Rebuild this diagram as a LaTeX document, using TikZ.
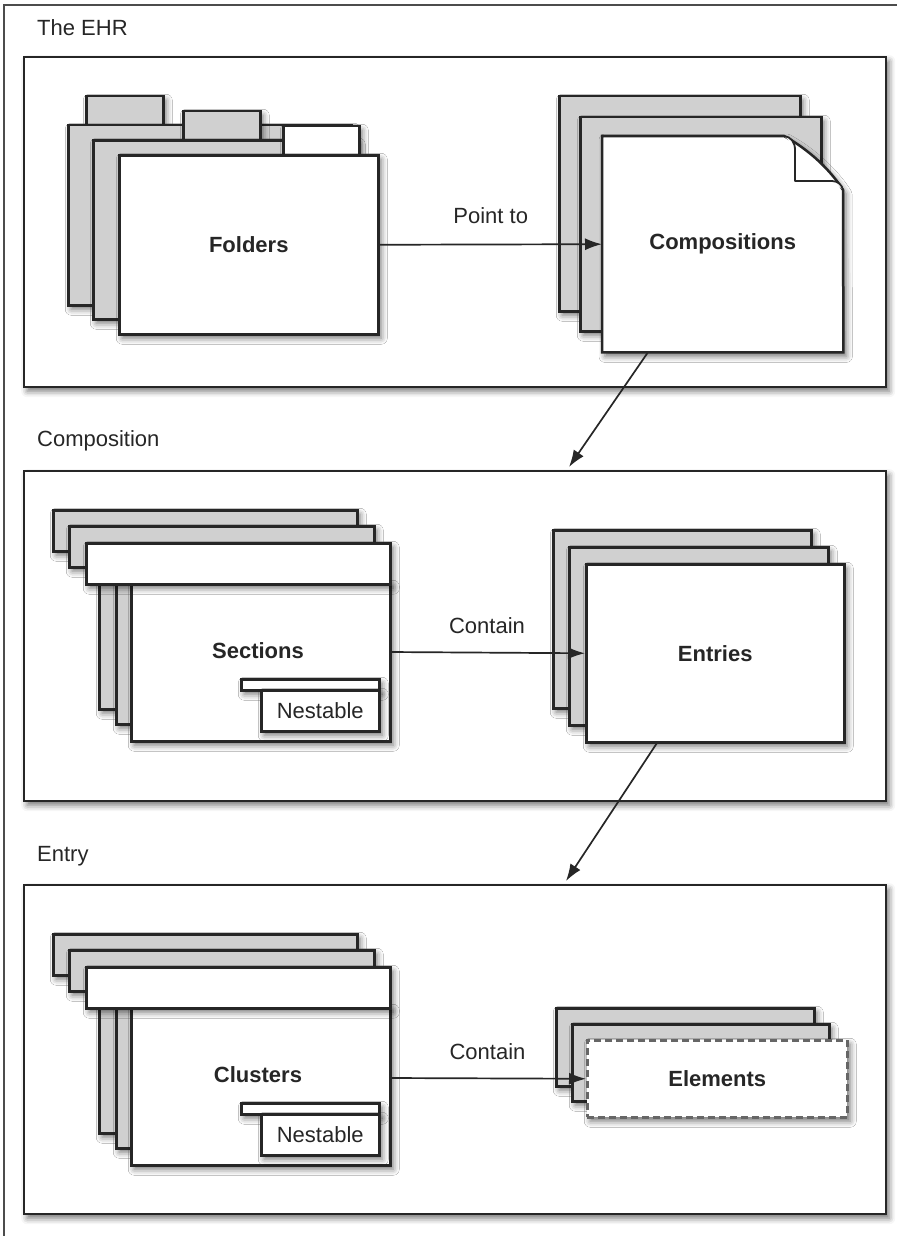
\documentclass[tikz,border=0pt]{standalone}
\usepackage{fontspec}
\setmainfont{Liberation Sans}
\usetikzlibrary{arrows.meta,shadows.blur,calc}
\definecolor{lineC}{HTML}{262626}
\definecolor{grayF}{HTML}{D0D0D0}
\newcommand\Bx[7]{\node[#1, anchor=north west, inner sep=0pt, minimum width={(#5)-(#3)}, minimum height={(#6)-(#4)}] (#2) at (#3,#4) {#7};}
\tikzset{
  shd/.style={blur shadow={shadow xshift=3pt, shadow yshift=-4pt, shadow blur radius=6pt, shadow opacity=55}},
  panel/.style={draw=lineC, line width=2.4pt, fill=white, shd},
  sheet/.style={draw=lineC, line width=2.5pt, fill=white, shd},
  graysheet/.style={sheet, fill=grayF},
  dashsheet/.style={draw=black!60, line width=2.5pt, dash pattern=on 7pt off 4pt, fill=white, shd},
  txt/.style={font=\fontsize{22}{26}\selectfont, text=black!85, inner sep=0pt},
  btxt/.style={font=\fontsize{22}{26}\selectfont\bfseries, text=black!85},
  conn/.style={draw=lineC, line width=1.7pt, -{Latex[length=17pt,width=12pt]}},
  frame/.style={draw=black!70, line width=2pt}
}
\begin{document}
\begin{tikzpicture}[x=1pt,y=-1pt]
\useasboundingbox (0,0) rectangle (897,1236);
% outer frame (cropped)
\draw[frame] (4,1236) -- (4,5) -- (897,5);
% panels
\Bx{panel}{p1}{23}{56}{885}{386}{}
\Bx{panel}{p2}{23}{470}{885}{800}{}
\Bx{panel}{p3}{23}{884}{885}{1213}{}
\node[txt, anchor=west] (t1) at (37,28) {The EHR};
\node[txt, anchor=west] (t2) at (37,441) {Composition};
\node[txt, anchor=west] (t3) at (37,856) {Entry};
% ---------- Folders
\Bx{graysheet}{ftab1}{85}{95}{162}{124}{}
\Bx{graysheet}{fb1}{67}{124}{350}{304}{}
\Bx{graysheet}{ftab2}{182}{110}{259}{139}{}
\Bx{graysheet}{fb2}{92}{139}{355}{318}{}
\Bx{sheet}{ftab3}{282}{125}{358}{154}{}
\Bx{sheet}{folders}{118}{154}{377}{333}{}
\node[btxt] (foltxt) at (folders.center) {Folders};
% ---------- Compositions
\Bx{graysheet}{cb1}{558}{95}{799}{310}{}
\Bx{graysheet}{cb2}{579}{116}{820}{330}{}
\Bx{}{comp}{602}{136}{843}{352}{}
\path[sheet] (comp.north west) -- (784,136) .. controls (810,150) and (832,172) .. (843,190)
  -- (comp.south east) -- (comp.south west) -- cycle;
\draw[draw=lineC, line width=1.8pt, fill=white, line join=round]
  (784,136) .. controls (791,137) and (795,142) .. (795,150) -- (795,181) -- (832,181)
  .. controls (838,181) and (842,185) .. (843,190);
\node[btxt] (comptxt) at (comp.center) {Compositions};
\draw[conn] (folders.east) -- (comp.west) node[midway, above=20pt, txt] (lbl1) {Point to};
% ---------- Sections
\Bx{graysheet}{sb1}{98}{548}{350}{708}{}
\Bx{graysheet}{sh1}{52}{509}{356}{550}{}
\Bx{graysheet}{sb2}{115}{564}{360}{723}{}
\Bx{graysheet}{sh2}{68}{525}{373}{566}{}
\Bx{sheet}{sections}{130}{581}{389}{740}{}
\Bx{sheet}{sh3}{85}{542}{389}{583}{}
\node[btxt] (sectxt) at (258,651) {Sections};
\Bx{sheet}{ns1}{240}{678}{378}{689}{}
\Bx{sheet}{nb1}{260}{689}{378}{730}{}
\node[txt] (nt1) at (nb1.center) {Nestable};
% ---------- Entries
\Bx{graysheet}{eb1}{552}{529}{810}{707}{}
\Bx{graysheet}{eb2}{568}{546}{827}{724}{}
\Bx{sheet}{entries}{585}{563}{843}{741}{}
\node[btxt] (enttxt) at (entries.center) {Entries};
\coordinate (sE) at (389,652);
\draw[conn] (sE) -- (entries.west) node[midway, above=18pt, txt] (lbl2) {Contain};
% ---------- arrows between panels
\coordinate (a1s) at ($(comp.south west)!0.19!(comp.south east)$);
\coordinate (a1e) at (569,467);
\draw[conn] (a1s) -- (a1e);
\coordinate (a2s) at ($(entries.south west)!0.275!(entries.south east)$);
\coordinate (a2e) at (566,881);
\draw[conn] (a2s) -- (a2e);
% ---------- Clusters
\Bx{graysheet}{cl1}{98}{972}{350}{1132}{}
\Bx{graysheet}{ch1}{52}{933}{356}{974}{}
\Bx{graysheet}{cl2}{115}{988}{360}{1147}{}
\Bx{graysheet}{ch2}{68}{949}{373}{990}{}
\Bx{sheet}{clusters}{130}{1005}{389}{1164}{}
\Bx{sheet}{ch3}{85}{966}{389}{1007}{}
\node[btxt] (cltxt) at (258,1075) {Clusters};
\Bx{sheet}{ns2}{240}{1102}{378}{1113}{}
\Bx{sheet}{nb2}{260}{1113}{378}{1154}{}
\node[txt] (nt2) at (nb2.center) {Nestable};
% ---------- Elements
\Bx{graysheet}{el1}{555}{1007}{813}{1085}{}
\Bx{graysheet}{el2}{571}{1023}{828}{1100}{}
\Bx{dashsheet}{elements}{586}{1039}{846}{1116}{}
\node[btxt] (eltxt) at (elements.center) {Elements};
\coordinate (cE) at (389,1078);
\draw[conn] (cE) -- (elements.west) node[midway, above=18pt, txt] (lbl3) {Contain};
\end{tikzpicture}
\end{document}
